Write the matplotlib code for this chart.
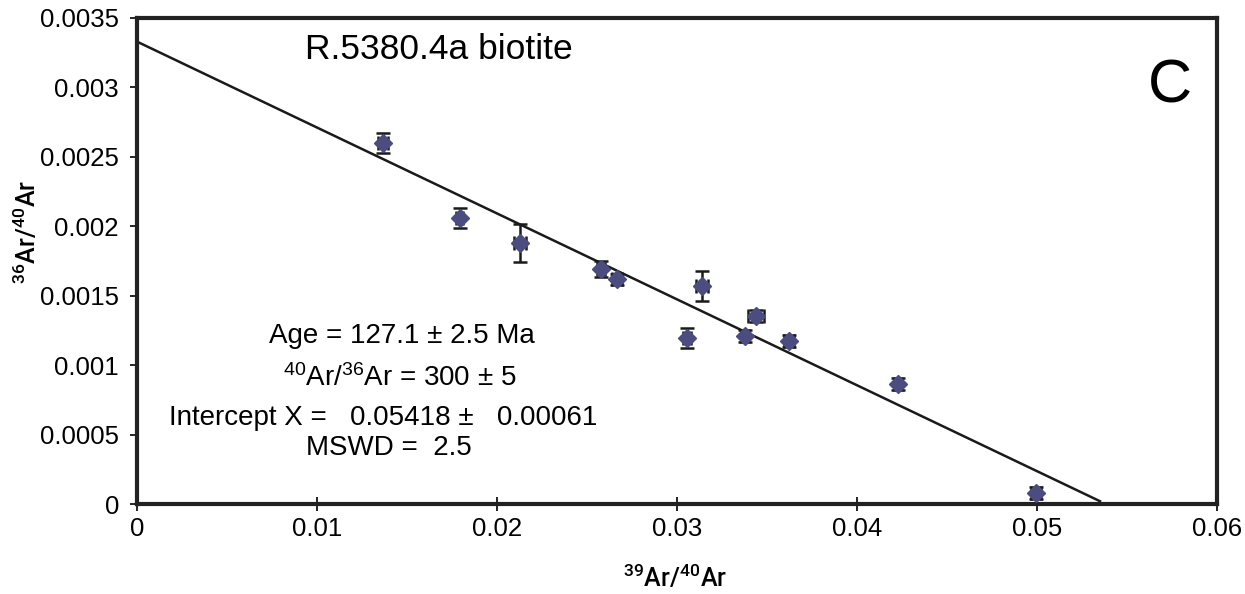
import matplotlib
matplotlib.use("Agg")
import matplotlib.pyplot as plt
import numpy as np

plt.rcParams['mathtext.default'] = 'regular'
plt.rcParams['font.family'] = ['Liberation Sans', 'DejaVu Sans']

# Data: 39Ar/40Ar (x), 36Ar/40Ar (y), with 1-sigma errors
x_vals = [0.01367, 0.01794, 0.02128, 0.02578, 0.02667, 0.03056,
          0.03139, 0.03378, 0.03439, 0.03622, 0.04228, 0.04994]
y_vals = [0.002600, 0.002060, 0.001880, 0.001692, 0.001620, 0.001195,
          0.001570, 0.001210, 0.001354, 0.001174, 0.000864, 0.000079]
x_err = [0.0003, 0.0002, 0.00033, 0.0002, 0.0003, 0.0002,
         0.00036, 0.0002, 0.00045, 0.0003, 0.0002, 0.0003]
y_err = [0.000072, 0.00007, 0.000137, 0.00006, 0.00004, 0.00007,
         0.000105, 0.00004, 0.00004, 0.00004, 0.00004, 0.00004]

# Isochron line (as drawn)
line_x = [0.0, 0.0535]
line_y = [0.00333, 0.00002]

x_ticks = [0, 0.01, 0.02, 0.03, 0.04, 0.05, 0.06]
x_ticklabels = ['0', '0.01', '0.02', '0.03', '0.04', '0.05', '0.06']
y_ticks = [0, 0.0005, 0.001, 0.0015, 0.002, 0.0025, 0.003, 0.0035]
y_ticklabels = ['0', '0.0005', '0.001', '0.0015', '0.002', '0.0025', '0.003', '0.0035']

fig = plt.figure(figsize=(12.45, 5.94), dpi=100)
ax = fig.add_axes([0.110, 0.1515, 0.8675, 0.8182])

ax.plot(line_x, line_y, color='#1a1a1a', lw=1.8, zorder=2)
ax.errorbar(x_vals, y_vals, xerr=x_err, yerr=y_err, fmt='D', color='#4b4c80',
            markersize=9.5, ecolor='#1a1a1a', elinewidth=1.8, capsize=5,
            capthick=1.8, zorder=3)

ax.set_xlim(0, 0.06)
ax.set_ylim(0, 0.0035)
ax.set_xticks(x_ticks)
ax.set_xticklabels(x_ticklabels)
ax.set_yticks(y_ticks)
ax.set_yticklabels(y_ticklabels)
ax.tick_params(axis='x', direction='inout', length=10, width=1.2, labelsize=18.5, pad=4)
ax.tick_params(axis='y', direction='out', length=5, width=1.2, labelsize=18.5, pad=8)
for s in ax.spines.values():
    s.set_linewidth(3)
    s.set_color('#222222')

lab_font = dict(family=['Roboto', 'Open Sans', 'DejaVu Sans'],
                fontsize=18, fontweight='medium')
ax.set_xlabel('$^{39}$Ar/$^{40}$Ar', **lab_font)
ax.set_ylabel('$^{36}$Ar/$^{40}$Ar', **lab_font)
ax.xaxis.set_label_coords(0.498, -0.124)
ax.yaxis.set_label_coords(-0.089, 0.56)

ax.text(0.00933, 0.00327, 'R.5380.4a biotite', fontsize=25.5, ha='left', va='center')
ax.text(0.0574, 0.00300, 'C', fontsize=44, ha='center', va='center')

ann = 20
ax.text(0.01472, 0.00121, 'Age = 127.1 ± 2.5 Ma', fontsize=ann, ha='center', va='center')
ax.text(0.01461, 0.00091, '$^{40}$Ar/$^{36}$Ar = 300 ± 5', fontsize=ann, ha='center', va='center')
ax.text(0.01367, 0.00062, 'Intercept X =   0.05418 ±   0.00061', fontsize=ann, ha='center', va='center')
ax.text(0.0140, 0.00040, 'MSWD =  2.5', fontsize=ann, ha='center', va='center')

fig.savefig('out.png', dpi=100)
